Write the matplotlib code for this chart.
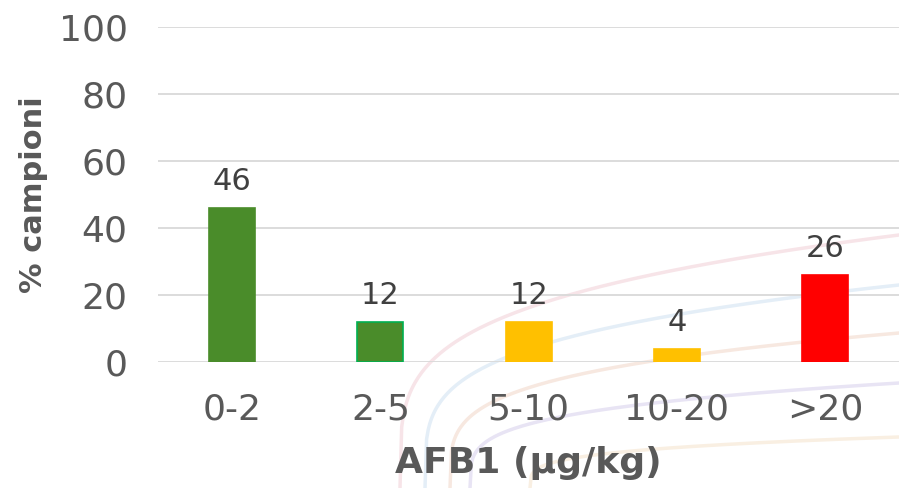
import matplotlib
matplotlib.use("Agg")
import matplotlib.pyplot as plt
import numpy as np

categories = ["0-2", "2-5", "5-10", "10-20", ">20"]
values = [46, 12, 12, 4, 26]
colors = ["#4a8c2a", "#4a8c2a", "#ffc000", "#ffc000", "#ff0000"]
edges = ["#4a8c2a", "#00b050", "#ffc000", "#ffc000", "#ff0000"]
yticks = [0, 20, 40, 60, 80, 100]

W, H = 899, 488
fig = plt.figure(figsize=(W / 100, H / 100), dpi=100)
ax = fig.add_axes([0.176, 0.258, 0.824, 0.687])

# faint decorative arcs in the background (pixel space: right end y, start x)
arc_colors = ["#f7e4e8", "#e4eef7", "#f7e8e0", "#e8e4f4", "#f9efe2"]
arc_right = [235, 285, 333, 383, 437]
arc_start = [400, 425, 450, 470, 530]
for c, yr, x0 in zip(arc_colors, arc_right, arc_start):
    xs = np.linspace(x0, W, 300)
    ys = H - (H - yr) * ((xs - x0) / (W - x0)) ** 0.25
    fig.add_artist(plt.Line2D(xs / W, 1 - ys / H, transform=fig.transFigure,
                              color=c, lw=2.5, zorder=0))

x = np.arange(len(categories))
ax.bar(x, values, width=0.31, color=colors, edgecolor=edges, linewidth=1.2, zorder=3)
for xi, v in zip(x, values):
    ax.text(xi, v + 3.5, str(v), ha="center", va="bottom", fontsize=22, color="#404040")

ax.set_ylim(0, 100)
ax.set_xlim(-0.5, len(categories) - 0.5)
ax.set_yticks(yticks)
ax.set_xticks(x)
ax.set_xticklabels(categories)
ax.tick_params(axis="both", length=0, labelsize=26, labelcolor="#595959")
ax.tick_params(axis="y", pad=22)
ax.tick_params(axis="x", pad=22)
ax.grid(axis="y", color="#d9d9d9", lw=1.3, zorder=0)
for s in ax.spines.values():
    s.set_visible(False)
ax.patch.set_alpha(0)

ax.set_xlabel("AFB1 (µg/kg)", fontsize=26, fontweight="bold", color="#595959", labelpad=14)
ax.set_ylabel("% campioni", fontsize=22, fontweight="bold", color="#595959", labelpad=8)

plt.savefig("out.png", dpi=100)
